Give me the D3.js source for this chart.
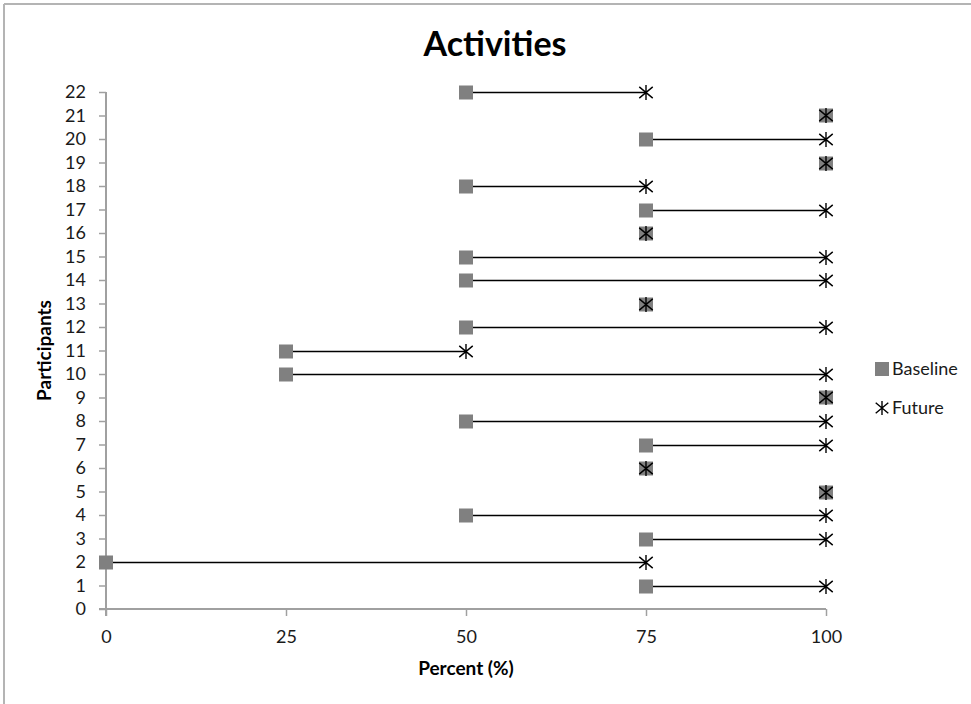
<!DOCTYPE html>
<html>
<head>
<meta charset="utf-8">
<script src="https://cdn.jsdelivr.net/npm/d3@7"></script>
<style>
  html, body { margin: 0; padding: 0; background: #fff; }
  svg { display: block; font-family: Lato, "Open Sans", sans-serif; }
</style>
</head>
<body>
<svg id="chart" width="971" height="704"></svg>
<script>
// Participant ids on the vertical axis
const participants = [1, 2, 3, 4, 5, 6, 7, 8, 9, 10, 11, 12, 13, 14, 15, 16, 17, 18, 19, 20, 21, 22];
// Baseline activity percentage per participant
const baseline = [75, 0, 75, 50, 100, 75, 75, 50, 100, 25, 25, 50, 75, 50, 50, 75, 75, 50, 100, 75, 100, 50];
// Future activity percentage per participant
const future = [100, 75, 100, 100, 100, 75, 100, 100, 100, 100, 50, 100, 75, 100, 100, 75, 100, 75, 100, 100, 100, 75];
// Axis tick values
const xTicks = [0, 25, 50, 75, 100];
const yTicks = d3.range(0, 23);
const seriesNames = ["Baseline", "Future"];

const rows = participants.map((p, i) => ({ p, b: baseline[i], f: future[i] }));

const svg = d3.select("#chart");
const W = 971, H = 704;
const FONT = "Lato, 'Open Sans', sans-serif";

// Frame (top and left edges)
svg.append("line").attr("x1", 4).attr("x2", W).attr("y1", 4).attr("y2", 4)
  .attr("stroke", "#b4b4b4").attr("stroke-width", 2);
svg.append("line").attr("x1", 4).attr("x2", 4).attr("y1", 4).attr("y2", H)
  .attr("stroke", "#b4b4b4").attr("stroke-width", 2);

const x = d3.scaleLinear().domain([0, 100]).range([106, 826]);
const y = d3.scaleLinear().domain([0, 22]).range([609, 92]);

// Title
svg.append("text").attr("x", 495).attr("y", 56).attr("text-anchor", "middle")
  .attr("font-size", 34).attr("font-weight", "bold").attr("fill", "#000")
  .text("Activities");

// Axes
const xAxis = svg.append("g").attr("transform", `translate(0,${y(0)})`)
  .call(d3.axisBottom(x).tickValues(xTicks).tickSize(7).tickPadding(14).tickSizeOuter(0));
const yAxis = svg.append("g").attr("transform", `translate(${x(0)},0)`)
  .call(d3.axisLeft(y).tickValues(yTicks).tickSize(7).tickPadding(13).tickSizeOuter(0));

[xAxis, yAxis].forEach(g => {
  g.select(".domain").attr("stroke", "#a0a0a0").attr("stroke-width", 2);
  g.selectAll(".tick line").attr("stroke", "#a0a0a0").attr("stroke-width", 1.5);
  g.selectAll(".tick text").attr("font-size", 18).attr("fill", "#1a1a1a")
    .attr("font-family", FONT);
});
// extend axes past their crossing like the tick marks
xAxis.select(".domain").attr("d", `M${x(0) - 7},0H${x(100)}`);
yAxis.select(".domain").attr("d", `M0,${y(22)}V${y(0) + 7}`);

// Axis titles
svg.append("text").attr("x", (x(0) + x(100)) / 2).attr("y", 675).attr("text-anchor", "middle")
  .attr("font-size", 19).attr("font-weight", "bold").text("Percent (%)");
svg.append("text").attr("transform", `translate(51,${(y(0) + y(22)) / 2}) rotate(-90)`)
  .attr("text-anchor", "middle").attr("font-size", 19).attr("font-weight", "bold")
  .text("Participants");

// Connector lines from baseline to future
svg.append("g").selectAll("line").data(rows.filter(d => d.b !== d.f)).join("line")
  .attr("x1", d => x(d.b)).attr("x2", d => x(d.f))
  .attr("y1", d => Math.round(y(d.p)) + 0.5).attr("y2", d => Math.round(y(d.p)) + 0.5)
  .attr("stroke", "#000").attr("stroke-width", 1.3);

const sq = 14;
function star(g, cx, cy, r) {
  const p = d3.path();
  p.moveTo(cx, cy - r); p.lineTo(cx, cy + r);
  const dx = r * 0.9, dy = r * 0.75;
  p.moveTo(cx - dx, cy - dy); p.lineTo(cx + dx, cy + dy);
  p.moveTo(cx - dx, cy + dy); p.lineTo(cx + dx, cy - dy);
  g.append("path").attr("d", p.toString()).attr("stroke", "#000")
    .attr("stroke-width", 1.4).attr("fill", "none");
}

// Baseline squares
svg.append("g").selectAll("rect").data(rows).join("rect")
  .attr("x", d => x(d.b) - sq / 2).attr("y", d => Math.round(y(d.p)) + 0.5 - sq / 2)
  .attr("width", sq).attr("height", sq).attr("fill", "#808080");

// Future asterisks
const fg = svg.append("g");
rows.forEach(d => star(fg, x(d.f), Math.round(y(d.p)) + 0.5, 7.5));

// Legend
const lg = svg.append("g");
lg.append("rect").attr("x", 875).attr("y", 362).attr("width", 14).attr("height", 14).attr("fill", "#808080");
lg.append("text").attr("x", 892).attr("y", 375).attr("font-size", 18).attr("fill", "#1a1a1a").text(seriesNames[0]);
star(lg, 882, 408, 7);
lg.append("text").attr("x", 892).attr("y", 414).attr("font-size", 18).attr("fill", "#1a1a1a").text(seriesNames[1]);
</script>
</body>
</html>
